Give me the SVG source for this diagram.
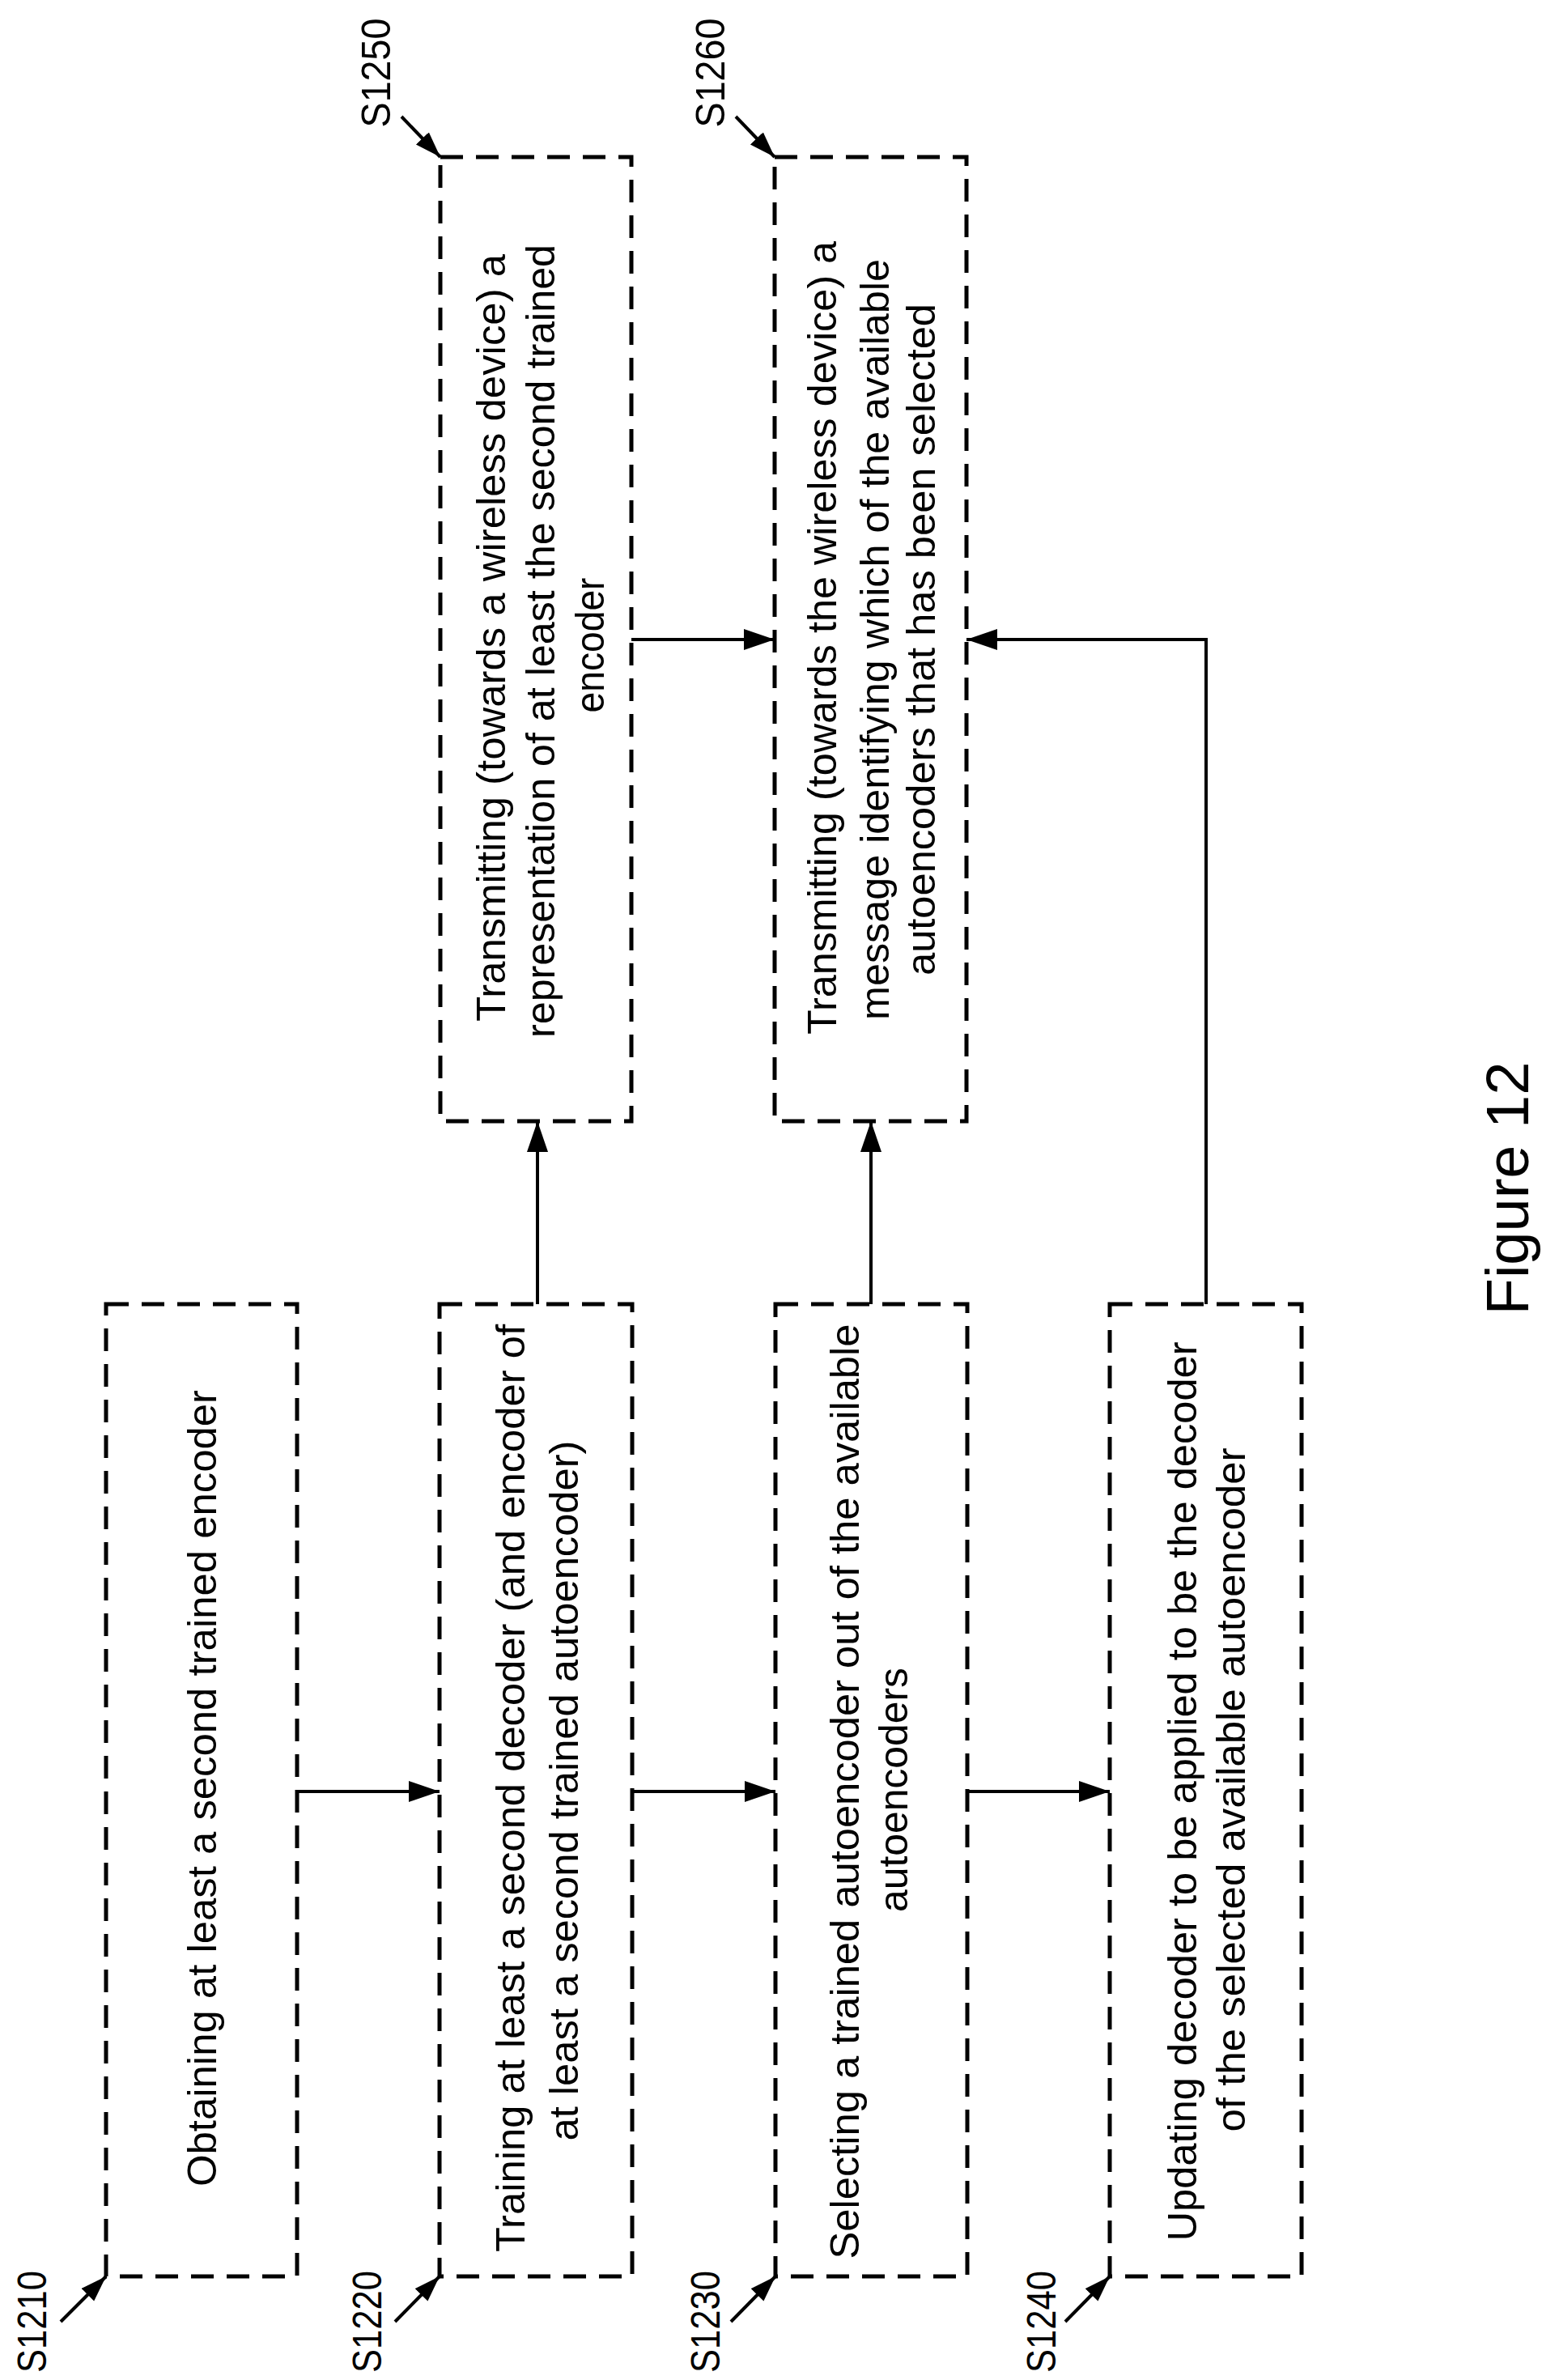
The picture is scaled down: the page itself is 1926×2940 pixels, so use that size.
<svg xmlns="http://www.w3.org/2000/svg" width="1926" height="2940" viewBox="0 0 1926 2940">
<style>
.box{fill:none;stroke:#000;stroke-width:5;stroke-dasharray:28 16}
.t{font-family:"Liberation Sans",Arial,sans-serif;font-size:50px;fill:#000;text-anchor:middle;dominant-baseline:central}
.c{fill:none;stroke:#000;stroke-width:4}
</style>
<defs>
<marker id="ah" markerUnits="userSpaceOnUse" markerWidth="40" markerHeight="30" refX="38" refY="13" orient="auto"><path d="M0,0 L38,13 L0,26 Z" fill="#000"/></marker>
<marker id="sh" markerUnits="userSpaceOnUse" markerWidth="34" markerHeight="26" refX="32" refY="11" orient="auto"><path d="M0,0 L32,11 L0,22 Z" fill="#000"/></marker>
</defs>
<g id="S1210"><rect class="box" x="131" y="1611" width="236" height="1201"/>
<text class="t" transform="rotate(-90 250 2209)" x="250" y="2209" textLength="984" lengthAdjust="spacingAndGlyphs">Obtaining at least a second trained encoder</text>
<text class="t" transform="rotate(-90 40 2868)" x="40" y="2868" textLength="126" lengthAdjust="spacingAndGlyphs">S1210</text></g>
<g id="S1220"><rect class="box" x="543" y="1611" width="238" height="1201"/>
<text class="t" transform="rotate(-90 631 2209)" x="631" y="2209" textLength="1146" lengthAdjust="spacingAndGlyphs">Training at least a second decoder (and encoder of</text>
<text class="t" transform="rotate(-90 697 2212)" x="697" y="2212" textLength="865" lengthAdjust="spacingAndGlyphs">at least a second trained autoencoder)</text>
<text class="t" transform="rotate(-90 454 2868)" x="454" y="2868" textLength="126" lengthAdjust="spacingAndGlyphs">S1220</text></g>
<g id="S1230"><rect class="box" x="958" y="1611" width="237" height="1201"/>
<text class="t" transform="rotate(-90 1044 2213)" x="1044" y="2213" textLength="1155" lengthAdjust="spacingAndGlyphs">Selecting a trained autoencoder out of the available</text>
<text class="t" transform="rotate(-90 1104 2211)" x="1104" y="2211" textLength="302" lengthAdjust="spacingAndGlyphs">autoencoders</text>
<text class="t" transform="rotate(-90 872 2868)" x="872" y="2868" textLength="126" lengthAdjust="spacingAndGlyphs">S1230</text></g>
<g id="S1240"><rect class="box" x="1371" y="1611" width="237" height="1201"/>
<text class="t" transform="rotate(-90 1461 2213)" x="1461" y="2213" textLength="1111" lengthAdjust="spacingAndGlyphs">Updating decoder to be applied to be the decoder</text>
<text class="t" transform="rotate(-90 1521 2211)" x="1521" y="2211" textLength="845" lengthAdjust="spacingAndGlyphs">of the selected available autoencoder</text>
<text class="t" transform="rotate(-90 1287 2868)" x="1287" y="2868" textLength="126" lengthAdjust="spacingAndGlyphs">S1240</text></g>
<g id="S1250"><rect class="box" x="544" y="194" width="236" height="1191"/>
<text class="t" transform="rotate(-90 607 788)" x="607" y="788" textLength="948" lengthAdjust="spacingAndGlyphs">Transmitting (towards a wireless device) a</text>
<text class="t" transform="rotate(-90 668 792)" x="668" y="792" textLength="980" lengthAdjust="spacingAndGlyphs">representation of at least the second trained</text>
<text class="t" transform="rotate(-90 729 797)" x="729" y="797" textLength="167" lengthAdjust="spacingAndGlyphs">encoder</text>
<text class="t" transform="rotate(-90 465 90)" x="465" y="90" textLength="135" lengthAdjust="spacingAndGlyphs">S1250</text></g>
<g id="S1260"><rect class="box" x="957" y="194" width="237" height="1191"/>
<text class="t" transform="rotate(-90 1016 788)" x="1016" y="788" textLength="980" lengthAdjust="spacingAndGlyphs">Transmitting (towards the wireless device) a</text>
<text class="t" transform="rotate(-90 1081 790)" x="1081" y="790" textLength="940" lengthAdjust="spacingAndGlyphs">message identifying which of the available</text>
<text class="t" transform="rotate(-90 1138 790)" x="1138" y="790" textLength="830" lengthAdjust="spacingAndGlyphs">autoencoders that has been selected</text>
<text class="t" transform="rotate(-90 878 90)" x="878" y="90" textLength="135" lengthAdjust="spacingAndGlyphs">S1260</text></g>
<g id="caption"><text class="t" style="font-size:74px" transform="rotate(-90 1862 1468)" x="1862" y="1468">Figure 12</text></g>
<g id="connectors">
<line class="c" x1="367" y1="2213" x2="543" y2="2213" marker-end="url(#ah)"/>
<line class="c" x1="781" y1="2213" x2="958" y2="2213" marker-end="url(#ah)"/>
<line class="c" x1="1195" y1="2213" x2="1371" y2="2213" marker-end="url(#ah)"/>
<line class="c" x1="780" y1="790" x2="957" y2="790" marker-end="url(#ah)"/>
<line class="c" x1="664" y1="1611" x2="664" y2="1385" marker-end="url(#ah)"/>
<line class="c" x1="1076" y1="1611" x2="1076" y2="1385" marker-end="url(#ah)"/>
<polyline class="c" points="1490,1611 1490,790 1194,790" marker-end="url(#ah)"/>
<line class="c" x1="75" y1="2868" x2="131" y2="2812" marker-end="url(#sh)"/>
<line class="c" x1="488" y1="2868" x2="543" y2="2812" marker-end="url(#sh)"/>
<line class="c" x1="903" y1="2868" x2="958" y2="2812" marker-end="url(#sh)"/>
<line class="c" x1="1316" y1="2868" x2="1371" y2="2812" marker-end="url(#sh)"/>
<line class="c" x1="496" y1="144" x2="544" y2="194" marker-end="url(#sh)"/>
<line class="c" x1="909" y1="144" x2="957" y2="194" marker-end="url(#sh)"/>
</g>
</svg>
